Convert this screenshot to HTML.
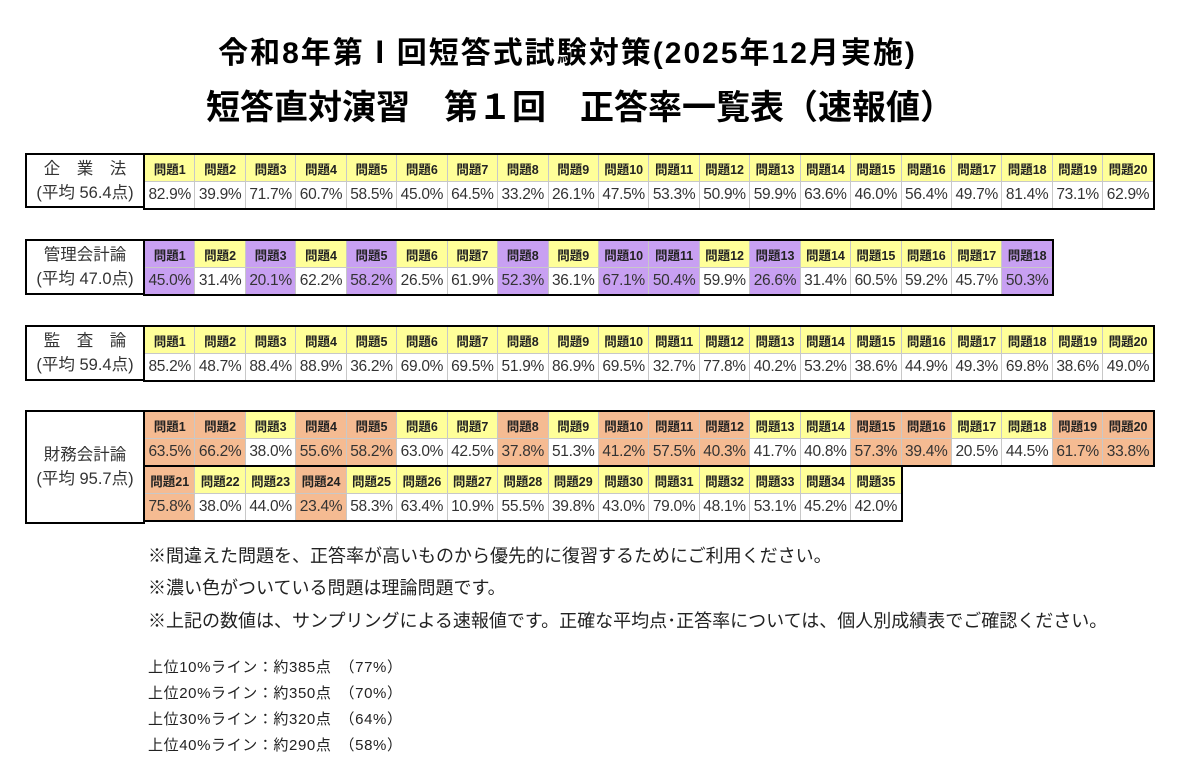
<!DOCTYPE html>
<html><head><meta charset="utf-8"><style>
body{margin:0;width:1200px;height:781px;background:#fff;position:relative;overflow:hidden;font-family:"Liberation Sans","Noto Sans CJK JP",sans-serif;color:#222}
.t1{position:absolute;left:0;width:1135px;text-align:center;top:36px;font-size:30px;font-weight:bold;letter-spacing:2px;color:#000;line-height:36px}
.t2{position:absolute;left:0;width:1160px;text-align:center;top:87px;font-size:34px;font-weight:bold;color:#000;line-height:42px}
.lab{position:absolute;border:2px solid #000;box-sizing:border-box;text-align:center;font-size:16.5px;color:#333;display:flex;flex-direction:column;justify-content:center;line-height:24px;background:#fff}
table{position:absolute;border-collapse:collapse;table-layout:fixed;border:2px solid #000}
td{border:1px solid #c8c8c8;width:49.45px;padding:0;text-align:center;height:26px;white-space:nowrap;overflow:hidden}
tr.h td{background:#ffff99;font-weight:bold;font-size:12.5px;color:#222}
tr.v td{font-size:15.5px;color:#333;letter-spacing:-0.3px}
td.p{background:#c8a0f2!important}
td.o{background:#f5bb92!important}
.n{position:absolute;left:148px;font-size:18px;color:#222}
.s{position:absolute;left:148px;font-size:15px;letter-spacing:0.6px;color:#222;white-space:pre}
</style></head><body>
<div class="t1">令和8年第Ⅰ回短答式試験対策(2025年12月実施)</div>
<div class="t2">短答直対演習　第１回　正答率一覧表（速報値）</div>

<div class="lab" style="left:25px;top:153px;width:120px;height:55px"><div>企　業　法</div><div>(平均 56.4点)</div></div>
<table style="left:143px;top:153px;width:1010px">
<tr class="h"><td>問題1</td><td>問題2</td><td>問題3</td><td>問題4</td><td>問題5</td><td>問題6</td><td>問題7</td><td>問題8</td><td>問題9</td><td>問題10</td><td>問題11</td><td>問題12</td><td>問題13</td><td>問題14</td><td>問題15</td><td>問題16</td><td>問題17</td><td>問題18</td><td>問題19</td><td>問題20</td></tr>
<tr class="v"><td>82.9%</td><td>39.9%</td><td>71.7%</td><td>60.7%</td><td>58.5%</td><td>45.0%</td><td>64.5%</td><td>33.2%</td><td>26.1%</td><td>47.5%</td><td>53.3%</td><td>50.9%</td><td>59.9%</td><td>63.6%</td><td>46.0%</td><td>56.4%</td><td>49.7%</td><td>81.4%</td><td>73.1%</td><td>62.9%</td></tr>
</table>

<div class="lab" style="left:25px;top:239px;width:120px;height:56px"><div>管理会計論</div><div>(平均 47.0点)</div></div>
<table style="left:143px;top:239px;width:908px">
<tr class="h"><td class="p">問題1</td><td>問題2</td><td class="p">問題3</td><td>問題4</td><td class="p">問題5</td><td>問題6</td><td>問題7</td><td class="p">問題8</td><td>問題9</td><td class="p">問題10</td><td class="p">問題11</td><td>問題12</td><td class="p">問題13</td><td>問題14</td><td>問題15</td><td>問題16</td><td>問題17</td><td class="p">問題18</td></tr>
<tr class="v"><td class="p">45.0%</td><td>31.4%</td><td class="p">20.1%</td><td>62.2%</td><td class="p">58.2%</td><td>26.5%</td><td>61.9%</td><td class="p">52.3%</td><td>36.1%</td><td class="p">67.1%</td><td class="p">50.4%</td><td>59.9%</td><td class="p">26.6%</td><td>31.4%</td><td>60.5%</td><td>59.2%</td><td>45.7%</td><td class="p">50.3%</td></tr>
</table>

<div class="lab" style="left:25px;top:325px;width:120px;height:56px"><div>監　査　論</div><div>(平均 59.4点)</div></div>
<table style="left:143px;top:325px;width:1010px">
<tr class="h"><td>問題1</td><td>問題2</td><td>問題3</td><td>問題4</td><td>問題5</td><td>問題6</td><td>問題7</td><td>問題8</td><td>問題9</td><td>問題10</td><td>問題11</td><td>問題12</td><td>問題13</td><td>問題14</td><td>問題15</td><td>問題16</td><td>問題17</td><td>問題18</td><td>問題19</td><td>問題20</td></tr>
<tr class="v"><td>85.2%</td><td>48.7%</td><td>88.4%</td><td>88.9%</td><td>36.2%</td><td>69.0%</td><td>69.5%</td><td>51.9%</td><td>86.9%</td><td>69.5%</td><td>32.7%</td><td>77.8%</td><td>40.2%</td><td>53.2%</td><td>38.6%</td><td>44.9%</td><td>49.3%</td><td>69.8%</td><td>38.6%</td><td>49.0%</td></tr>
</table>

<div class="lab" style="left:25px;top:410px;width:120px;height:114px"><div>財務会計論</div><div>(平均 95.7点)</div></div>
<table style="left:143px;top:410px;width:1010px">
<tr class="h"><td class="o">問題1</td><td class="o">問題2</td><td>問題3</td><td class="o">問題4</td><td class="o">問題5</td><td>問題6</td><td>問題7</td><td class="o">問題8</td><td>問題9</td><td class="o">問題10</td><td class="o">問題11</td><td class="o">問題12</td><td>問題13</td><td>問題14</td><td class="o">問題15</td><td class="o">問題16</td><td>問題17</td><td>問題18</td><td class="o">問題19</td><td class="o">問題20</td></tr>
<tr class="v"><td class="o">63.5%</td><td class="o">66.2%</td><td>38.0%</td><td class="o">55.6%</td><td class="o">58.2%</td><td>63.0%</td><td>42.5%</td><td class="o">37.8%</td><td>51.3%</td><td class="o">41.2%</td><td class="o">57.5%</td><td class="o">40.3%</td><td>41.7%</td><td>40.8%</td><td class="o">57.3%</td><td class="o">39.4%</td><td>20.5%</td><td>44.5%</td><td class="o">61.7%</td><td class="o">33.8%</td></tr>
</table>
<table style="left:143px;top:465px;width:757px">
<tr class="h"><td class="o">問題21</td><td>問題22</td><td>問題23</td><td class="o">問題24</td><td>問題25</td><td>問題26</td><td>問題27</td><td>問題28</td><td>問題29</td><td>問題30</td><td>問題31</td><td>問題32</td><td>問題33</td><td>問題34</td><td>問題35</td></tr>
<tr class="v"><td class="o">75.8%</td><td>38.0%</td><td>44.0%</td><td class="o">23.4%</td><td>58.3%</td><td>63.4%</td><td>10.9%</td><td>55.5%</td><td>39.8%</td><td>43.0%</td><td>79.0%</td><td>48.1%</td><td>53.1%</td><td>45.2%</td><td>42.0%</td></tr>
</table>

<div class="n" style="top:542px">※間違えた問題を、正答率が高いものから優先的に復習するためにご利用ください。</div>
<div class="n" style="top:574px">※濃い色がついている問題は理論問題です。</div>
<div class="n" style="top:607px">※上記の数値は、サンプリングによる速報値です。正確な平均点･正答率については、個人別成績表でご確認ください。</div>
<div class="s" style="top:656px">上位10%ライン：約385点　（77%）</div>
<div class="s" style="top:682px">上位20%ライン：約350点　（70%）</div>
<div class="s" style="top:708px">上位30%ライン：約320点　（64%）</div>
<div class="s" style="top:734px">上位40%ライン：約290点　（58%）</div>
</body></html>
